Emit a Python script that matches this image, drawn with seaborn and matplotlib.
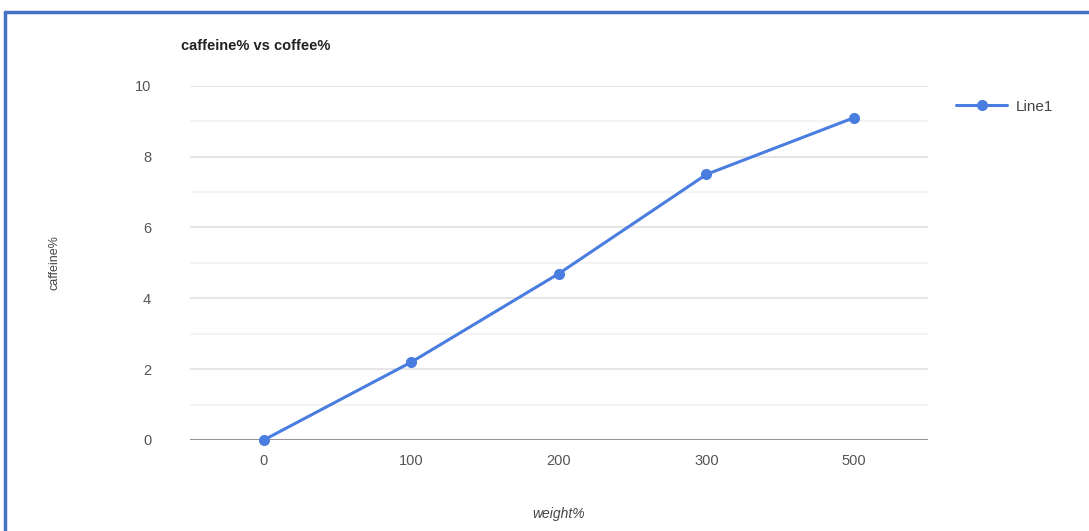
import seaborn as sns
import matplotlib.pyplot as plt
import pandas as pd
from matplotlib.lines import Line2D

# chart values
weights = ['0', '100', '200', '300', '500']
caffeine = [0, 2.2, 4.7, 7.5, 9.1]
series_name = 'Line1'

df = pd.DataFrame({'weight%': weights, 'caffeine%': caffeine, 'series': series_name})

sns.set_style("white")
plt.rcParams['font.family'] = ['Liberation Sans', 'DejaVu Sans']

fig = plt.figure(figsize=(10.89, 5.31), dpi=100)
ax = fig.add_axes([0.1745, 0.1714, 0.6775, 0.667])

line_color = '#4a7de0'
sns.lineplot(data=df, x='weight%', y='caffeine%', hue='series', palette=[line_color],
             marker='o', markersize=8, markeredgewidth=0, linewidth=2.2, sort=False, ax=ax)
for ln in ax.lines:
    ln.set_clip_on(False)
    ln.set_zorder(5)

ax.set_ylim(0, 10)
ax.set_xlim(-0.5, 4.5)
ax.set_yticks([0, 2, 4, 6, 8, 10])
ax.set_yticks([1, 3, 5, 7, 9], minor=True)
ax.grid(True, which='major', axis='y', color='#e2e2e2', linewidth=1.2)
ax.grid(True, which='minor', axis='y', color='#f2f2f2', linewidth=1.2)
ax.axhline(0, color='#8c8c8c', linewidth=2, zorder=2)
ax.set_axisbelow(True)
for s in ax.spines.values():
    s.set_visible(False)
ax.tick_params(axis='both', which='both', length=0, labelsize=10.5, labelcolor='#555555')
ax.tick_params(axis='y', pad=28)
ax.tick_params(axis='x', pad=10)

ax.set_xlabel('weight%', fontsize=10, color='#444444', style='italic')
ax.xaxis.set_label_coords(0.5, -0.19)
ax.set_ylabel('caffeine%', fontsize=9, color='#444444')
ax.yaxis.set_label_coords(-0.175, 0.5)
fig.text(0.166, 0.913, 'caffeine% vs coffee%', fontsize=10.5, fontweight='bold', color='#222222',
         ha='left', va='center')

leg = ax.legend(loc='upper left', bbox_to_anchor=(1.02, 1.0), frameon=False, fontsize=11,
                handlelength=3.3, handletextpad=0.6, labelcolor='#444444')

# blue frame around the chart
frame_color = '#4472c4'
fig.add_artist(Line2D([0.005, 1.0], [0.9775, 0.9775], color=frame_color, linewidth=2.5,
                      transform=fig.transFigure))
fig.add_artist(Line2D([0.005, 0.005], [0.0, 0.9775], color=frame_color, linewidth=2.5,
                      transform=fig.transFigure))

fig.savefig('out.png', dpi=100)
